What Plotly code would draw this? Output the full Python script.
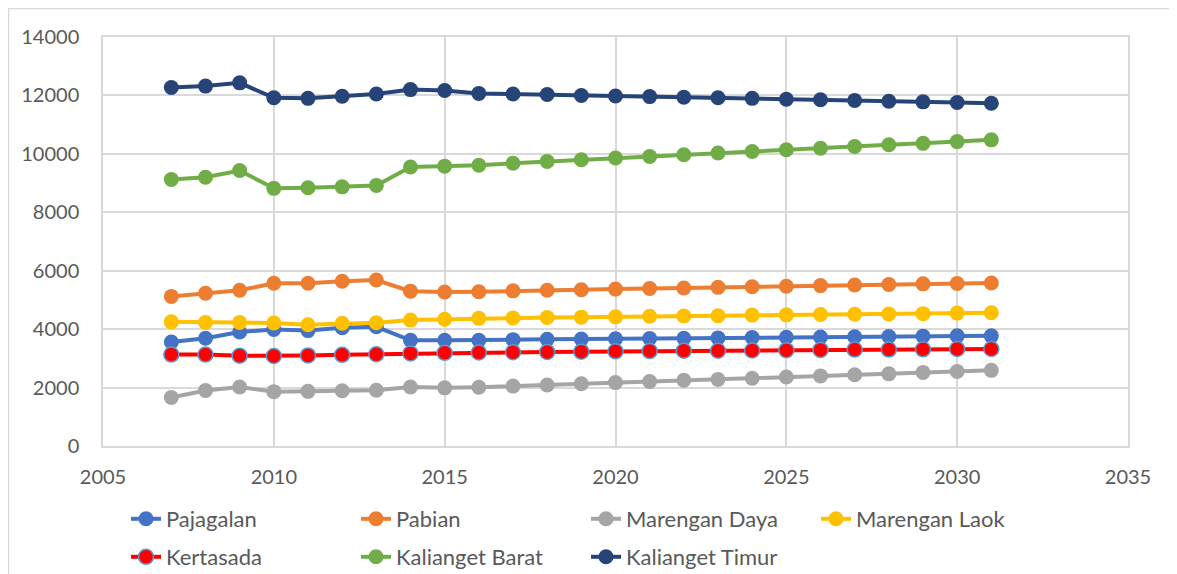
import plotly.graph_objects as go

years = list(range(2007, 2032))

pajagalan = [3560, 3690, 3900, 3990, 3950, 4050, 4080, 3620, 3620, 3620, 3640, 3650, 3660,
             3670, 3680, 3690, 3700, 3710, 3720, 3730, 3740, 3750, 3760, 3770, 3770]
pabian = [5120, 5230, 5330, 5570, 5570, 5640, 5680, 5300, 5270, 5280, 5310, 5330, 5350,
          5370, 5390, 5410, 5430, 5450, 5470, 5490, 5510, 5530, 5550, 5560, 5580]
marengan_daya = [1660, 1900, 2020, 1860, 1870, 1890, 1910, 2020, 1990, 2010, 2050, 2090, 2130,
                 2170, 2210, 2250, 2280, 2320, 2360, 2400, 2440, 2470, 2520, 2550, 2590]
marengan_laok = [4250, 4230, 4230, 4210, 4150, 4200, 4220, 4310, 4340, 4370, 4380, 4400, 4410,
                 4420, 4440, 4450, 4460, 4480, 4490, 4500, 4510, 4520, 4530, 4550, 4560]
kertasada = [3130, 3130, 3090, 3080, 3100, 3120, 3140, 3170, 3190, 3200, 3210, 3220, 3230,
             3240, 3250, 3260, 3260, 3270, 3280, 3290, 3300, 3300, 3310, 3320, 3320]
kalianget_barat = [9120, 9200, 9430, 8820, 8840, 8870, 8920, 9550, 9580, 9610, 9680, 9740, 9800,
                   9860, 9910, 9970, 10030, 10080, 10140, 10190, 10250, 10310, 10360, 10420, 10480]
kalianget_timur = [12270, 12320, 12430, 11920, 11900, 11970, 12050, 12200, 12170, 12070, 12050, 12030, 12000,
                   11980, 11960, 11940, 11920, 11900, 11870, 11850, 11830, 11800, 11780, 11760, 11730]

series = [
    ("Pajagalan", pajagalan, "#4472C4", None, "legend"),
    ("Pabian", pabian, "#ED7D31", None, "legend"),
    ("Marengan Daya", marengan_daya, "#A5A5A5", None, "legend"),
    ("Marengan Laok", marengan_laok, "#FFC000", None, "legend"),
    ("Kertasada", kertasada, "#FF0000", "#5B9BD5", "legend2"),
    ("Kalianget Barat", kalianget_barat, "#70AD47", None, "legend2"),
    ("Kalianget Timur", kalianget_timur, "#264478", None, "legend2"),
]

fig = go.Figure()
for name, vals, color, edge, leg in series:
    fig.add_trace(go.Scatter(
        x=years, y=vals, name=name, mode="lines+markers", legend=leg,
        line=dict(color=color, width=4),
        marker=dict(size=15, color=color,
                    line=dict(color=edge if edge else color, width=1.5 if edge else 0)),
    ))

# page has an 8px body margin; positions below are in figure pixels
W, H = 1177, 574
L, T, R, B = 95, 29, 57, 136
pw, ph = W - L - R, H - T - B

def px_x(x):
    return (x - L) / pw

def px_y(y):
    return (H - B - y) / ph

fig.add_shape(type="rect", xref="paper", yref="paper",
              x0=px_x(0.5), x1=px_x(1200), y0=px_y(600), y1=px_y(0.5),
              line=dict(color="#D9D9D9", width=1.5), fillcolor="rgba(0,0,0,0)", layer="below")

font = "Lato, 'Liberation Sans', sans-serif"
grey = "#595959"
leg_common = dict(orientation="h", xanchor="left", yanchor="middle",
                  xref="container", yref="container",
                  entrywidth=185, entrywidthmode="pixels",
                  font=dict(size=22, color=grey), bgcolor="rgba(0,0,0,0)", itemwidth=30)

fig.update_layout(
    width=W, height=H,
    margin=dict(l=L, r=R, t=T, b=B, autoexpand=False),
    paper_bgcolor="white", plot_bgcolor="white",
    font=dict(family=font, size=20, color=grey),
    xaxis=dict(range=[2005, 2035], dtick=5, tick0=2005, showgrid=True, gridcolor="#D9D9D9",
               gridwidth=1.5, showline=True, linecolor="#D9D9D9", linewidth=1.5, mirror=True,
               zeroline=False, ticks="", ticklabelstandoff=12, tickformat="d", automargin=False,
               tickfont=dict(size=20, color=grey)),
    yaxis=dict(range=[0, 14000], dtick=2000, showgrid=True, gridcolor="#D9D9D9", gridwidth=1.5,
               showline=True, linecolor="#D9D9D9", linewidth=1.5, mirror=True,
               zeroline=False, ticks="", ticklabelstandoff=18, tickformat="d", automargin=False,
               tickfont=dict(size=20, color=grey)),
    legend=dict(x=118 / W, y=1 - 511 / H, **leg_common),
    legend2=dict(x=118 / W, y=1 - 549 / H, **leg_common),
    showlegend=True,
)

fig.write_html("out.html")
